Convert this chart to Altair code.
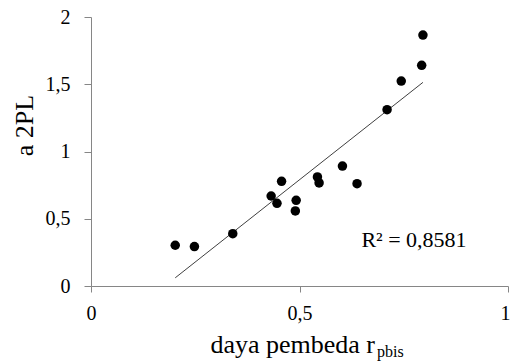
import altair as alt
import pandas as pd

# data
rpbis = [0.202, 0.248, 0.340, 0.432, 0.446, 0.457, 0.492, 0.490,
         0.543, 0.547, 0.603, 0.638, 0.710, 0.744, 0.793, 0.796]
a2pl = [0.303, 0.293, 0.389, 0.669, 0.615, 0.778, 0.637, 0.558,
        0.811, 0.766, 0.892, 0.761, 1.311, 1.524, 1.641, 1.866]
x_ticks = [0, 0.5, 1]
y_ticks = [0, 0.5, 1, 1.5, 2]
r2_label = "R² = 0,8581"
x_title_main = "daya pembeda r"
x_title_sub = "pbis"
y_title = "a 2PL"

df = pd.DataFrame({"x": rpbis, "y": a2pl})

FONT = "Liberation Serif"
AXIS_GREY = "#868686"
comma = "replace(toString(datum.value), '.', ',')"

xs = alt.Scale(domain=[0, 1], nice=False, zero=True)
ys = alt.Scale(domain=[0, 2], nice=False, zero=True)

x_axis = alt.Axis(values=x_ticks, labelExpr=comma, grid=False, title=None,
                  domainColor=AXIS_GREY, tickColor=AXIS_GREY, tickSize=6,
                  labelPadding=11, labelFont=FONT, labelFontSize=20,
                  labelColor="#000000", labelFlush=False,
                  labelAlign=alt.expr("datum.value == 1 ? 'right' : 'center'"),
                  labelOffset=alt.expr("datum.value == 1 ? 2 : 0"))
y_axis = alt.Axis(values=y_ticks, labelExpr=comma, grid=False, title=y_title,
                  domainColor=AXIS_GREY, tickColor=AXIS_GREY, tickSize=7,
                  labelPadding=14, labelFont=FONT, labelFontSize=20,
                  labelColor="#000000", titleFont=FONT, titleFontSize=26,
                  titleFontWeight="normal", titleColor="#000000",
                  titleX=-59, titleY=108, titleBaseline="alphabetic",
                  titleAlign="center", titleAngle=270)

base = alt.Chart(df)

points = base.mark_circle(size=90, color="#000000", opacity=1).encode(
    x=alt.X("x:Q", scale=xs, axis=x_axis),
    y=alt.Y("y:Q", scale=ys, axis=y_axis),
)

trend = base.transform_regression("x", "y").mark_line(
    color="#404040", strokeWidth=1
).encode(x=alt.X("x:Q", scale=xs), y=alt.Y("y:Q", scale=ys))

r2 = alt.Chart(pd.DataFrame({"t": [r2_label]})).mark_text(
    font=FONT, fontSize=22, align="center", baseline="alphabetic", color="#000000"
).encode(text="t:N", x=alt.value(323), y=alt.value(230))

title_main = alt.Chart(pd.DataFrame({"t": [x_title_main]})).mark_text(
    font=FONT, fontSize=26, align="right", baseline="alphabetic", color="#000000"
).encode(text="t:N", x=alt.value(284), y=alt.value(336))

title_sub = alt.Chart(pd.DataFrame({"t": [x_title_sub]})).mark_text(
    font=FONT, fontSize=16, align="left", baseline="alphabetic", color="#000000"
).encode(text="t:N", x=alt.value(286), y=alt.value(340))

chart = alt.layer(trend, points, r2, title_main, title_sub).properties(
    width=417, height=269,
    autosize=alt.AutoSizeParams(type="none"),
    padding={"left": 91, "top": 17, "right": 2, "bottom": 75},
).configure_view(stroke=None)

chart.save("out.html", embed_options={"renderer": "svg", "actions": False})
